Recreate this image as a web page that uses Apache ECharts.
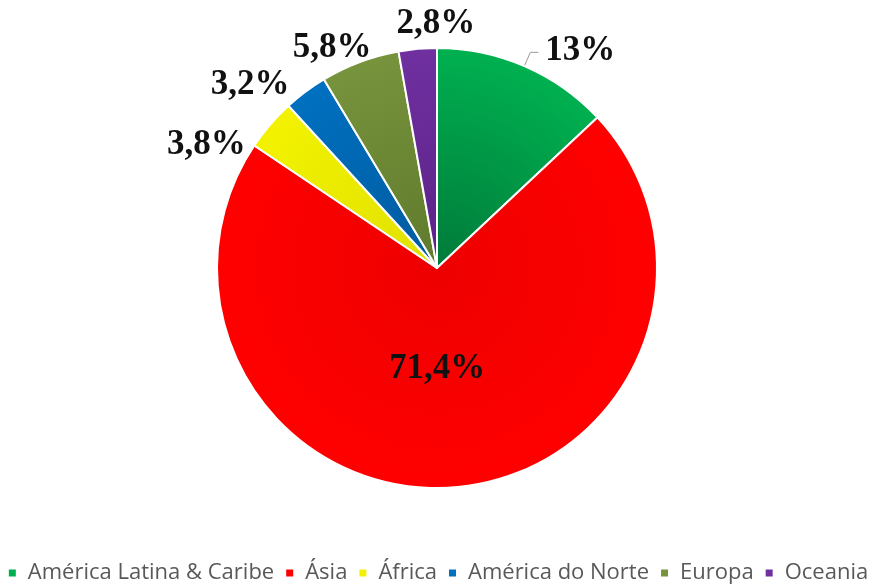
<!DOCTYPE html>
<html>
<head>
<meta charset="utf-8">
<script src="https://cdn.jsdelivr.net/npm/echarts@6/dist/echarts.min.js"></script>
<style>html,body{margin:0;padding:0;background:#fff;}#c{width:875px;height:584px;}</style>
</head>
<body>
<div id="c"></div>
<script>
const categories = ['América Latina & Caribe', 'Ásia', 'África', 'América do Norte', 'Europa', 'Oceania'];
const values = [13, 71.4, 3.8, 3.2, 5.8, 2.8];
const labels = ['13%', '71,4%', '3,8%', '3,2%', '5,8%', '2,8%'];

const baseColors = ['#00b050', '#ff0000', '#f2f200', '#0070c0', '#77933c', '#7030a0'];
const innerColors = ['#007a3a', '#ee0000', '#e0e000', '#005a9e', '#5f7a2c', '#5a2288'];
const labelOffsets = [[2, -1], [-9, -12], [0, 30], [6, 5], [30, 0], [72, -10]];

const CX = 437, CY = 268, R = 220;
const chart = echarts.init(document.getElementById('c'));
const data = categories.map((name, i) => ({
  name: name,
  value: values[i],
  itemStyle: {
    color: {
      type: 'radial', x: CX, y: CY, r: R, global: true,
      colorStops: [{offset: 0, color: innerColors[i]}, {offset: 1, color: baseColors[i]}]
    }
  },
  label: i === 1 ? {position: 'inside'} : {position: 'outside'},
  labelLine: {show: i === 0}
}));

chart.setOption({
  animation: false,
  color: baseColors,
  legend: {
    bottom: 0,
    left: 'center',
    padding: [5, 5, 0, 5],
    itemWidth: 9, itemHeight: 9, itemGap: 10,
    icon: 'rect',
    textStyle: {fontFamily: 'Open Sans', fontSize: 22, color: '#595959', padding: [0, 0, 0, 6]},
    data: categories
  },
  series: [{
    type: 'pie',
    center: [CX, CY],
    radius: R,
    startAngle: 90,
    clockwise: true,
    avoidLabelOverlap: false,
    itemStyle: {borderColor: '#fff', borderWidth: 2},
    label: {
      formatter: (p) => labels[p.dataIndex],
      fontFamily: 'Liberation Serif', fontWeight: 'bold', fontSize: 35, color: '#111'
    },
    labelLine: {length: 15, length2: 8, lineStyle: {color: '#999', width: 1}},
    labelLayout: (p) => ({dx: labelOffsets[p.dataIndex][0], dy: labelOffsets[p.dataIndex][1]}),
    data: data
  }]
});
</script>
</body>
</html>
